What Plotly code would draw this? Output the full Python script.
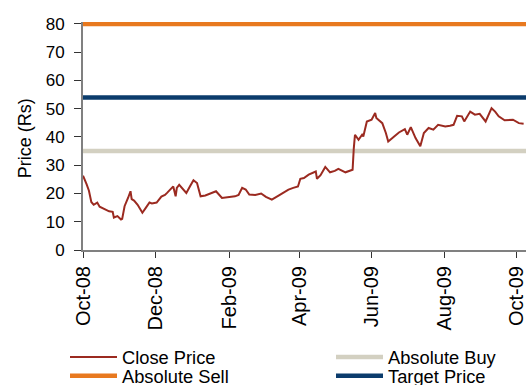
import plotly.graph_objects as go

dates = [
    "2008-10-01", "2008-10-03", "2008-10-04", "2008-10-06", "2008-10-08", "2008-10-10",
    "2008-10-13", "2008-10-15", "2008-10-19", "2008-10-23", "2008-10-26", "2008-10-27",
    "2008-10-30", "2008-11-02", "2008-11-03", "2008-11-05", "2008-11-08", "2008-11-10",
    "2008-11-11", "2008-11-13", "2008-11-16", "2008-11-20", "2008-11-23", "2008-11-26",
    "2008-11-28", "2008-12-02", "2008-12-06", "2008-12-09", "2008-12-11", "2008-12-16",
    "2008-12-18", "2008-12-19", "2008-12-21", "2008-12-24", "2008-12-27", "2008-12-30",
    "2009-01-02", "2009-01-05", "2009-01-08", "2009-01-12", "2009-01-16", "2009-01-21",
    "2009-01-26", "2009-02-01", "2009-02-06", "2009-02-09", "2009-02-12", "2009-02-15",
    "2009-02-18", "2009-02-23", "2009-02-28", "2009-03-04", "2009-03-09", "2009-03-15",
    "2009-03-19", "2009-03-23", "2009-03-27", "2009-03-31", "2009-04-02", "2009-04-05",
    "2009-04-09", "2009-04-15", "2009-04-16", "2009-04-19", "2009-04-23", "2009-04-27",
    "2009-05-01", "2009-05-04", "2009-05-10", "2009-05-14", "2009-05-16", "2009-05-17",
    "2009-05-18", "2009-05-21", "2009-05-24", "2009-05-25", "2009-05-28", "2009-06-01",
    "2009-06-04", "2009-06-05", "2009-06-07", "2009-06-10", "2009-06-13", "2009-06-15",
    "2009-06-20", "2009-06-24", "2009-06-29", "2009-07-01", "2009-07-04", "2009-07-08",
    "2009-07-12", "2009-07-15", "2009-07-19", "2009-07-23", "2009-07-27", "2009-08-02",
    "2009-08-06", "2009-08-09", "2009-08-12", "2009-08-16", "2009-08-18", "2009-08-23",
    "2009-08-27", "2009-08-31", "2009-09-05", "2009-09-10", "2009-09-13", "2009-09-16",
    "2009-09-21", "2009-09-24", "2009-09-28", "2009-10-03", "2009-10-07",
]
close_price = [
    26.3, 24.5, 23.3, 21.0, 17.0, 16.0,
    16.8, 15.3, 14.5, 13.7, 13.5, 11.5,
    12.0, 10.8, 11.0, 15.5, 18.5, 20.8,
    18.0, 17.5, 16.0, 13.2, 15.0, 16.8,
    16.5, 16.8, 18.9, 19.5, 20.3, 22.5,
    19.0, 22.0, 23.1, 21.5, 20.2, 22.5,
    24.7, 23.7, 19.0, 19.3, 20.0, 20.8,
    18.4, 18.8, 19.0, 19.5, 22.0, 21.4,
    19.6, 19.5, 20.0, 18.8, 17.8, 19.3,
    20.5, 21.4, 22.0, 22.5, 25.2, 25.5,
    26.7, 27.8, 25.2, 26.5, 29.4, 27.5,
    28.0, 28.7, 27.5, 28.1, 28.4, 36.0,
    40.8, 39.0, 40.8, 40.2, 45.5, 46.1,
    48.5, 46.7, 46.1, 44.9, 41.4, 38.4,
    40.2, 41.6, 42.8, 40.8, 43.5, 39.6,
    36.7, 41.4, 43.2, 42.6, 44.3, 43.7,
    44.0, 44.3, 47.5, 47.3, 45.5, 49.0,
    47.9, 48.2, 45.5, 50.2, 49.0, 47.3,
    45.9, 46.0, 46.1, 44.9, 44.7,
]

x_span = ["2008-10-01", "2009-10-09"]
absolute_sell = [80, 80]
target_price = [54, 54]
absolute_buy = [35, 35]
y_ticks = [0, 10, 20, 30, 40, 50, 60, 70, 80]
y_title = "Price (Rs)"

FONT = "Liberation Sans, Arial, sans-serif"

fig = go.Figure()
fig.add_trace(go.Scatter(x=x_span, y=absolute_buy, mode="lines", name="Absolute Buy",
                         line=dict(color="#D3D0C1", width=4.5), legend="legend2"))
fig.add_trace(go.Scatter(x=x_span, y=target_price, mode="lines", name="Target Price",
                         line=dict(color="#0B3C6C", width=4.5), legend="legend4"))
fig.add_trace(go.Scatter(x=x_span, y=absolute_sell, mode="lines", name="Absolute Sell",
                         line=dict(color="#E8791F", width=4.5), legend="legend3"))
fig.add_trace(go.Scatter(x=dates, y=close_price, mode="lines", name="Close Price",
                         line=dict(color="#9B2A20", width=2), legend="legend"))


def leg(px, py):
    return dict(x=px / 526, y=1 - py / 385, xref="container", yref="container",
                xanchor="left", yanchor="top", itemwidth=47,
                font=dict(size=18.3, family=FONT), bgcolor="rgba(0,0,0,0)",
                borderwidth=0)


fig.update_layout(
    width=526, height=385,
    margin=dict(l=83, r=0, t=22, b=135, autoexpand=False),
    paper_bgcolor="white", plot_bgcolor="white",
    font=dict(family=FONT, color="black"),
    showlegend=True,
    legend=leg(65, 338.6),
    legend2=leg(331, 338.6),
    legend3=leg(65, 357.4),
    legend4=leg(331, 357.4),
    xaxis=dict(type="date", range=x_span, tick0="2008-10-01", dtick="M2",
               tickformat="%b-%y", tickangle=-90, tickfont=dict(size=20, family=FONT),
               ticklabeloverflow="allow",
               showgrid=False, zeroline=False, showline=True, linecolor="#808080",
               linewidth=2, ticks="outside", ticklen=6, tickcolor="#333333", tickwidth=1),
    yaxis=dict(range=[0, 80.7], tickvals=y_ticks,
               tickfont=dict(size=17, family=FONT), showgrid=False, zeroline=False,
               showline=True, linecolor="#808080", linewidth=2, ticks="outside",
               ticklen=7, tickcolor="#333333", tickwidth=1, ticklabelstandoff=6),
    annotations=[dict(text=y_title, textangle=-90, showarrow=False,
                      xref="paper", yref="paper", x=(25 - 83) / 443, y=0.49,
                      xanchor="center", yanchor="middle",
                      font=dict(size=18, family=FONT))],
)

fig.write_html("out.html")
